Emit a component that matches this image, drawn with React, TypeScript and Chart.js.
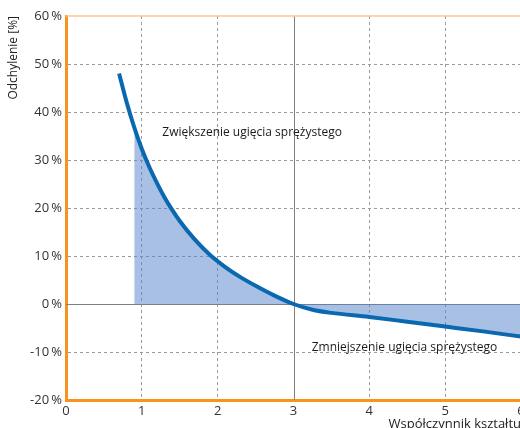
import React, { useEffect, useRef } from "react";
import { Chart, registerables } from "chart.js";

Chart.register(...registerables);

// Shape factor (x) and deflection deviation in % (y)
const shapeFactor = [0.7, 0.8, 0.9, 1.0, 1.1, 1.2, 1.3, 1.4, 1.5, 1.7, 1.9, 2.1, 2.3, 2.5, 2.75, 3.0, 3.25, 3.5, 4.0, 4.5, 5.0, 5.5, 6.0];
const deviation = [48, 42, 36.8, 32.3, 28.5, 25.2, 22.2, 19.6, 17.3, 13.4, 10.2, 7.7, 5.6, 3.8, 1.75, 0, -1.2, -1.85, -2.7, -3.7, -4.7, -5.7, -6.8];
const fillStart = 0.9;

const xTicks = [0, 1, 2, 3, 4, 5, 6];
const yTicks = [-20, -10, 0, 10, 20, 30, 40, 50, 60];

const noteTexts = ["Zwiększenie ugięcia sprężystego", "Zmniejszenie ugięcia sprężystego"];
const noteAnchorsX = [1.27, 3.24];
const noteAnchorsY = [35.8, -9];

const xTitle = "Współczynnik kształtu";
const yTitle = "Odchylenie [%]";

const FONT = "'Open Sans', 'Noto Sans', sans-serif";
const ORANGE = "#f7941d";

const overlayPlugin = {
  id: "overlay",
  beforeDatasetsDraw(chart: any) {
    const { ctx, chartArea, scales } = chart;
    const x = scales.x;
    const y = scales.y;
    ctx.save();
    ctx.strokeStyle = "#808080";
    ctx.lineWidth = 1;
    ctx.setLineDash([]);
    const y0 = Math.round(y.getPixelForValue(0)) + 0.5;
    ctx.beginPath();
    ctx.moveTo(chartArea.left, y0);
    ctx.lineTo(chartArea.right, y0);
    const x3 = Math.round(x.getPixelForValue(3)) + 0.5;
    ctx.moveTo(x3, chartArea.top);
    ctx.lineTo(x3, chartArea.bottom);
    ctx.stroke();
    ctx.restore();
  },
  afterDatasetsDraw(chart: any) {
    const { ctx, chartArea, scales } = chart;
    ctx.save();
    // thin top border
    ctx.strokeStyle = "#fbc88e";
    ctx.lineWidth = 1.5;
    ctx.beginPath();
    ctx.moveTo(chartArea.left, chartArea.top);
    ctx.lineTo(chartArea.right, chartArea.top);
    ctx.stroke();
    // notes
    ctx.fillStyle = "#1a1a1a";
    ctx.font = `12px ${FONT}`;
    ctx.textAlign = "left";
    ctx.textBaseline = "middle";
    noteTexts.forEach((t, i) => {
      ctx.fillText(t, scales.x.getPixelForValue(noteAnchorsX[i]), scales.y.getPixelForValue(noteAnchorsY[i]));
    });
    ctx.restore();
  },
};

export default function App() {
  const ref = useRef<HTMLCanvasElement | null>(null);

  useEffect(() => {
    if (!ref.current) return;
    const linePts = shapeFactor.map((v, i) => ({ x: v, y: deviation[i] }));
    const fillPts = linePts.filter((p) => p.x >= fillStart);
    const chart = new Chart(ref.current, {
      type: "line",
      data: {
        datasets: [
          {
            data: linePts,
            borderColor: "#0a68b0",
            borderWidth: 4,
            pointRadius: 0,
            fill: false,
            cubicInterpolationMode: "monotone",
            order: 0,
          },
          {
            data: fillPts,
            borderWidth: 0,
            borderColor: "rgba(0,0,0,0)",
            backgroundColor: "rgba(80,130,200,0.5)",
            pointRadius: 0,
            fill: { value: 0 },
            cubicInterpolationMode: "monotone",
            order: 1,
          },
        ],
      },
      plugins: [overlayPlugin],
      options: {
        animation: false,
        responsive: true,
        maintainAspectRatio: false,
        layout: { padding: { top: 16, right: 19, left: 0, bottom: 0 } },
        plugins: { legend: { display: false }, tooltip: { enabled: false } },
        scales: {
          x: {
            type: "linear",
            min: 0,
            max: 6,
            afterBuildTicks: (s: any) => {
              s.ticks = xTicks.map((v) => ({ value: v }));
            },
            afterFit: (s: any) => {
              s.height = 32;
            },
            ticks: {
              color: "#333",
              font: { family: FONT, size: 13 },
              padding: 3,
            },
            grid: {
              drawTicks: false,
              color: (c: any) => (c.tick && (c.tick.value === 3 || c.tick.value === 0 || c.tick.value === 6) ? "rgba(0,0,0,0)" : "#9a9a9a"),
              lineWidth: 1,
            },
            border: { color: ORANGE, width: 3, dash: [3, 3] },
            title: {
              display: true,
              text: xTitle,
              align: "end",
              color: "#222",
              font: { family: FONT, size: 13 },
              padding: { top: 0, bottom: 0 },
            },
          },
          y: {
            type: "linear",
            min: -20,
            max: 60,
            afterBuildTicks: (s: any) => {
              s.ticks = yTicks.map((v) => ({ value: v }));
            },
            afterFit: (s: any) => {
              s.width = 66;
            },
            ticks: {
              color: "#333",
              font: { family: FONT, size: 13 },
              padding: 4,
              callback: (v: any) => `${v}\u2009%`,
            },
            grid: {
              drawTicks: false,
              color: (c: any) => (c.tick && (c.tick.value === 0 || c.tick.value === 60 || c.tick.value === -20) ? "rgba(0,0,0,0)" : "#9a9a9a"),
              lineWidth: 1,
            },
            border: { color: ORANGE, width: 3, dash: [3, 3] },
            title: {
              display: true,
              text: yTitle,
              align: "end",
              color: "#222",
              font: { family: FONT, size: 12 },
              padding: { top: 6, bottom: 0 },
            },
          },
        },
      },
    } as any);
    return () => chart.destroy();
  }, []);

  return (
    <div style={{ position: "fixed", left: 0, top: 0, width: 520, height: 428, overflow: "hidden", background: "#fff" }}>
      <div style={{ position: "absolute", left: 0, top: 0, width: 540, height: 432 }}>
        <canvas ref={ref} />
      </div>
    </div>
  );
}
